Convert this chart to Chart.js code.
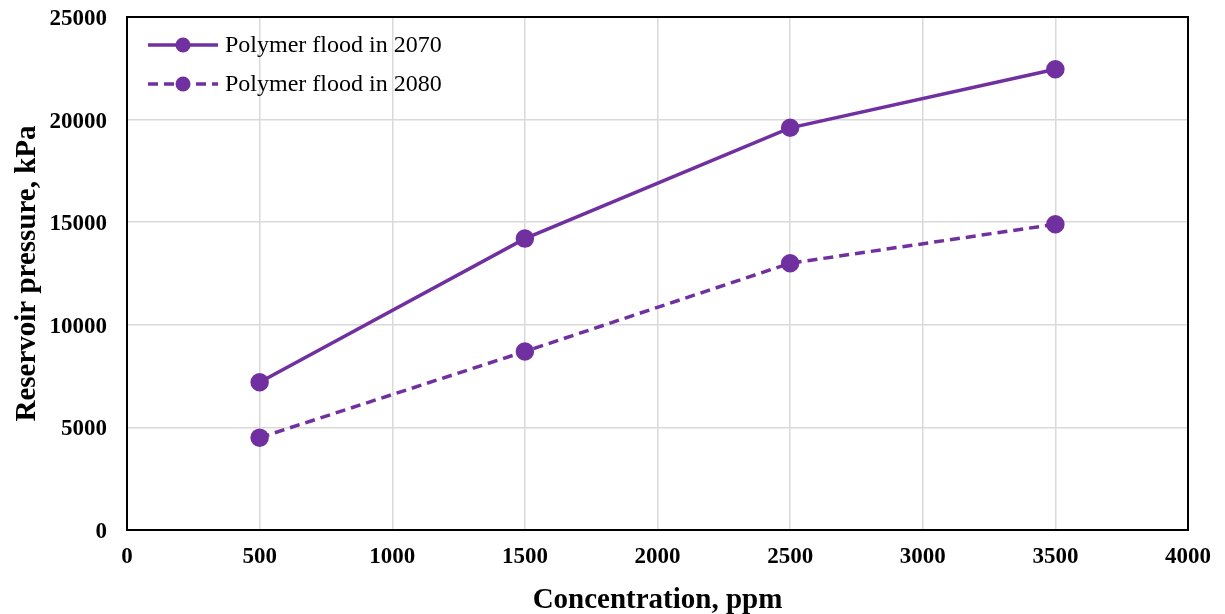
<!DOCTYPE html>
<html>
<head>
<meta charset="utf-8">
<script src="https://cdn.jsdelivr.net/npm/chart.js@4.4.1/dist/chart.umd.min.js"></script>
<style>
  html, body { margin: 0; padding: 0; background: #fff; }
  #wrap { width: 1225px; height: 614px; }
</style>
</head>
<body>
<div id="wrap"><canvas id="c" width="1225" height="614"></canvas></div>
<script>
// Polymer concentration (ppm) and resulting reservoir pressure (kPa)
const concentrations = [500, 1500, 2500, 3500];
const pressure2070 = [7200, 14200, 19600, 22450];
const pressure2080 = [4500, 8700, 13000, 14900];
const seriesNames = ['Polymer flood in 2070', 'Polymer flood in 2080'];
const xTickValues = [0, 500, 1000, 1500, 2000, 2500, 3000, 3500, 4000];
const yTickValues = [0, 5000, 10000, 15000, 20000, 25000];

const purple = '#7030A0';
const serif = '"Liberation Serif", "Times New Roman", serif';

const toPoints = (xs, ys) => xs.map((x, i) => ({ x: x, y: ys[i] }));

// Frame around the plotting area plus an in-plot legend
const framePlugin = {
  id: 'frameAndLegend',
  afterDraw(chart) {
    const { ctx, chartArea: a } = chart;
    ctx.save();
    ctx.strokeStyle = '#000';
    ctx.lineWidth = 2;
    ctx.strokeRect(a.left, a.top, a.right - a.left, a.bottom - a.top);

    chart.data.datasets.forEach((ds, i) => {
      const y = a.top + 28 + i * 39;
      const x0 = a.left + 21;
      ctx.strokeStyle = ds.borderColor;
      ctx.lineWidth = ds.borderWidth;
      ctx.setLineDash(ds.borderDash || []);
      ctx.beginPath();
      ctx.moveTo(x0, y);
      ctx.lineTo(x0 + 70, y);
      ctx.stroke();
      ctx.setLineDash([]);
      ctx.fillStyle = ds.pointBackgroundColor;
      ctx.beginPath();
      ctx.arc(x0 + 35, y, ds.pointRadius, 0, Math.PI * 2);
      ctx.fill();
      ctx.fillStyle = '#000';
      ctx.font = '24px ' + serif;
      ctx.textBaseline = 'middle';
      ctx.textAlign = 'left';
      ctx.fillText(ds.label, x0 + 77, y + 1);
    });
    ctx.restore();
  }
};

new Chart(document.getElementById('c'), {
  type: 'scatter',
  data: {
    datasets: [
      {
        label: seriesNames[0],
        data: toPoints(concentrations, pressure2070),
        showLine: true,
        borderColor: purple,
        backgroundColor: purple,
        pointBackgroundColor: purple,
        pointBorderColor: purple,
        borderWidth: 3.5,
        pointRadius: 7.5,
        pointHoverRadius: 7.5
      },
      {
        label: seriesNames[1],
        data: toPoints(concentrations, pressure2080),
        showLine: true,
        borderColor: purple,
        backgroundColor: purple,
        pointBackgroundColor: purple,
        pointBorderColor: purple,
        borderWidth: 3.5,
        borderDash: [10, 6],
        pointRadius: 7.5,
        pointHoverRadius: 7.5
      }
    ]
  },
  options: {
    responsive: false,
    animation: false,
    layout: { padding: { left: 0, right: 37, top: 17, bottom: 0 } },
    plugins: {
      legend: { display: false },
      tooltip: { enabled: false }
    },
    scales: {
      x: {
        type: 'linear',
        min: 0,
        max: 4000,
        afterBuildTicks(axis) { axis.ticks = xTickValues.map(v => ({ value: v })); },
        afterFit(axis) {
          axis.height = 84;
          axis.paddingLeft = 0;
          axis.paddingRight = 0;
        },
        grid: { color: '#d9d9d9', lineWidth: 1.5, drawTicks: false },
        border: { display: false },
        ticks: {
          color: '#000',
          padding: 13,
          font: { family: serif, size: 23, weight: 'bold' },
          callback: v => String(v)
        },
        title: {
          display: true,
          text: 'Concentration, ppm',
          color: '#000',
          font: { family: serif, size: 29, weight: 'bold' },
          padding: { top: 4, bottom: -4 }
        }
      },
      y: {
        type: 'linear',
        min: 0,
        max: 25000,
        afterBuildTicks(axis) { axis.ticks = yTickValues.map(v => ({ value: v })); },
        afterFit(axis) {
          axis.width = 127;
          axis.paddingTop = 0;
          axis.paddingBottom = 0;
        },
        grid: { color: '#d9d9d9', lineWidth: 1.5, drawTicks: false },
        border: { display: false },
        ticks: {
          color: '#000',
          padding: 20,
          labelOffset: 2,
          font: { family: serif, size: 23, weight: 'bold' },
          callback: v => String(v)
        },
        title: {
          display: true,
          text: 'Reservoir pressure, kPa',
          color: '#000',
          font: { family: serif, size: 29, weight: 'bold' },
          padding: { top: 10, bottom: 4 }
        }
      }
    }
  },
  plugins: [framePlugin]
});
</script>
</body>
</html>
